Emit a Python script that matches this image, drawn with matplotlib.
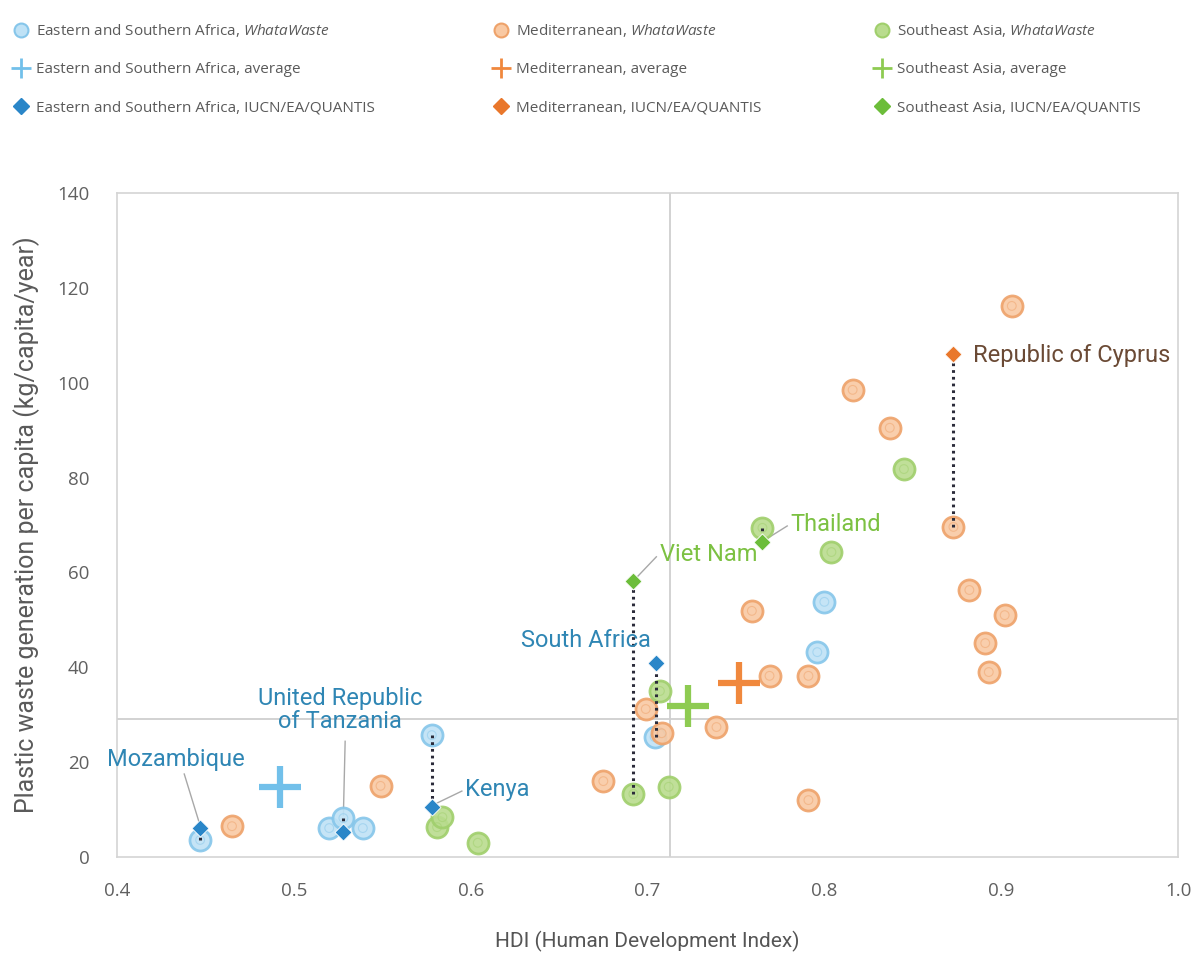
import matplotlib
matplotlib.use("Agg")
import matplotlib.pyplot as plt
from matplotlib.lines import Line2D

plt.rcParams['font.family'] = ['Roboto', 'DejaVu Sans']
plt.rcParams['mathtext.fontset'] = 'custom'
plt.rcParams['mathtext.it'] = 'Open Sans:italic'
plt.rcParams['mathtext.rm'] = 'Open Sans'

# ---------------- data ----------------
esa_www_x = [0.447, 0.520, 0.528, 0.539, 0.578, 0.704, 0.796, 0.800]
esa_www_y = [3.6, 6.1, 8.2, 6.1, 25.7, 25.3, 43.2, 53.8]
esa_iucn_x = [0.447, 0.528, 0.578, 0.705]
esa_iucn_y = [6.1, 5.3, 10.5, 40.9]
esa_avg = (0.492, 14.8)

med_www_x = [0.465, 0.549, 0.675, 0.699, 0.708, 0.739, 0.759, 0.769, 0.791,
             0.791, 0.816, 0.837, 0.873, 0.882, 0.891, 0.893, 0.902, 0.906]
med_www_y = [6.5, 15.0, 16.0, 31.2, 26.1, 27.4, 51.9, 38.2, 38.2,
             12.0, 98.5, 90.5, 69.6, 56.3, 45.1, 39.0, 51.0, 116.2]
med_iucn_x = [0.873]
med_iucn_y = [106.0]
med_avg = (0.752, 36.7)

sea_www_x = [0.581, 0.584, 0.604, 0.692, 0.707, 0.712, 0.765, 0.804, 0.845]
sea_www_y = [6.3, 8.4, 3.0, 13.3, 35.0, 14.8, 69.4, 64.3, 81.8]
sea_iucn_x = [0.692, 0.765]
sea_iucn_y = [58.2, 66.4]
sea_avg = (0.723, 31.8)

# connections (x, WhataWaste value, IUCN value)
conn_x = [0.447, 0.528, 0.578, 0.705, 0.692, 0.765, 0.873]
conn_www = [3.6, 8.2, 25.7, 25.3, 13.3, 69.4, 69.6]
conn_iucn = [6.1, 5.3, 10.5, 40.9, 58.2, 66.4, 106.0]

overall_hdi = 0.7127
overall_waste = 29.1

# labels: text, point, text position, alignment, leader, colour key
labels = [
    ("Mozambique", (0.447, 6.6), (0.433, 20.5), 'center', True, 'esa'),
    ("United Republic\nof Tanzania", (0.528, 8.8), (0.526, 31.0), 'center', True, 'esa'),
    ("Kenya", (0.580, 11.2), (0.597, 14.3), 'left', True, 'esa'),
    ("South Africa", (0.705, 40.9), (0.665, 45.7), 'center', False, 'esa'),
    ("Viet Nam", (0.694, 59.0), (0.707, 63.7), 'left', True, 'sea'),
    ("Thailand", (0.767, 67.0), (0.781, 70.2), 'left', True, 'sea'),
    ("Republic of Cyprus", (0.873, 106.0), (0.884, 105.8), 'left', False, 'cyp'),
]

xticks = [0.4, 0.5, 0.6, 0.7, 0.8, 0.9, 1.0]
yticks = [0, 20, 40, 60, 80, 100, 120, 140]

# ---------------- style ----------------
col = {
    'esa': dict(fill='#bfe2f6', edge='#86c6ea', dia='#2a86c8', avg='#72c0ea'),
    'med': dict(fill='#f9c9a3', edge='#eea26a', dia='#e9772b', avg='#f0883d'),
    'sea': dict(fill='#b9dc8e', edge='#a0cf6c', dia='#6cbd3a', avg='#8ecb52'),
}
label_colors = {'esa': '#2f86b4', 'sea': '#7cc142', 'cyp': '#6b4a35'}

fig = plt.figure(figsize=(11.98, 9.71), dpi=100)
ax = fig.add_axes([0.0977, 0.1174, 0.8856, 0.6838])

ax.set_xlim(0.4, 1.0)
ax.set_ylim(0, 140)

# reference lines
ax.axvline(overall_hdi, color='#cfcfcf', lw=1.3, zorder=1)
ax.axhline(overall_waste, color='#cfcfcf', lw=1.3, zorder=1)

# circles
def circles(xs, ys, c):
    ax.scatter(xs, ys, s=230, facecolor=c['fill'], edgecolor=c['edge'],
               linewidth=2.0, alpha=0.9, zorder=3)
    ax.scatter(xs, ys, s=40, facecolor='none', edgecolor=c['edge'],
               linewidth=0.8, alpha=0.5, zorder=3)

circles(esa_www_x, esa_www_y, col['esa'])
circles(med_www_x, med_www_y, col['med'])
circles(sea_www_x, sea_www_y, col['sea'])

# dotted connectors
for x, a, b in zip(conn_x, conn_www, conn_iucn):
    ax.plot([x, x], [a, b], color='#2b2b3a', lw=2.2, ls=(0, (0.9, 1.3)), zorder=4)

# diamonds
for xs, ys, c in [(esa_iucn_x, esa_iucn_y, col['esa']), (med_iucn_x, med_iucn_y, col['med']),
                  (sea_iucn_x, sea_iucn_y, col['sea'])]:
    ax.scatter(xs, ys, marker='D', s=75, color=c['dia'], edgecolor='white',
               linewidth=0.6, zorder=5)

# averages
for (x, y), c in [(esa_avg, col['esa']), (med_avg, col['med']), (sea_avg, col['sea'])]:
    ax.plot([x], [y], marker='+', markersize=30, mew=4.5, color=c['avg'], zorder=6)

# labels
for text, pt, tpos, ha, leader, key in labels:
    ax.text(tpos[0], tpos[1], text, ha=ha, va='center', fontsize=17,
            color=label_colors[key], linespacing=0.95, zorder=7)
    if leader:
        if key == 'esa' and ha == 'center':
            start = (tpos[0] + (0.005 if 'Moz' in text else 0.003),
                     tpos[1] - (3.0 if 'Moz' in text else 6.6))
        else:
            start = (tpos[0] - 0.002, tpos[1] - 0.4)
        ax.plot([start[0], pt[0]], [start[1], pt[1]], color='#a8a8a8', lw=1.0, zorder=2)

# axes styling
for s in ax.spines.values():
    s.set_color('#d4d4d4')
    s.set_linewidth(1.2)
ax.set_xticks(xticks)
ax.set_xticklabels([f"{v:.1f}" for v in xticks])
ax.set_yticks(yticks)
ax.tick_params(length=0, labelsize=13.5, labelcolor='#606060')
ax.tick_params(axis='x', pad=18)
ax.tick_params(axis='y', pad=20)
for lab in ax.get_xticklabels() + ax.get_yticklabels():
    lab.set_family(['Open Sans', 'DejaVu Sans'])

ax.set_xlabel("HDI (Human Development Index)", fontsize=15, color='#555555', labelpad=22)
ax.set_ylabel("Plastic waste generation per capita (kg/capita/year)", fontsize=18,
              color='#5a5a5a', labelpad=12)

# legend (three columns)
groups = [('Eastern and Southern Africa', 'esa', 0.011),
          ('Mediterranean', 'med', 0.412),
          ('Southeast Asia', 'sea', 0.730)]
for name, key, xpos in groups:
    c = col[key]
    handles = [
        Line2D([], [], ls='none', marker='o', markersize=10, markerfacecolor=c['fill'],
               markeredgecolor=c['edge'], markeredgewidth=1.5),
        Line2D([], [], ls='none', marker='+', markersize=14, mew=2, color=c['avg']),
        Line2D([], [], ls='none', marker='D', markersize=8, color=c['dia']),
    ]
    texts = [name + r', $\it{WhataWaste}$', name + ', average', name + ', IUCN/EA/QUANTIS']
    leg = fig.legend(handles, texts, loc='upper left', bbox_to_anchor=(xpos, 0.977),
                     frameon=False, fontsize=11, handlelength=1.0, handletextpad=0.5,
                     labelspacing=1.5, borderpad=0, borderaxespad=0)
    for t in leg.get_texts():
        t.set_color('#5a5a5a')
        t.set_family(['Open Sans', 'DejaVu Sans'])

fig.savefig('out.png', dpi=100, facecolor='white')
